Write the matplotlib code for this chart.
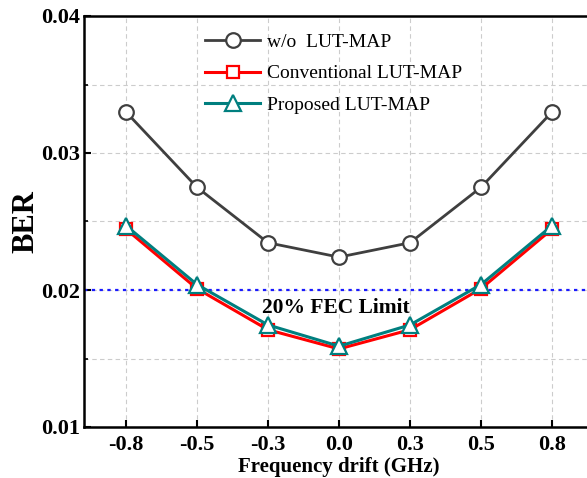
import matplotlib
matplotlib.use("Agg")
import matplotlib.pyplot as plt
from matplotlib.ticker import MultipleLocator

categories = ["-0.8", "-0.5", "-0.3", "0.0", "0.3", "0.5", "0.8"]
wo_lut = [0.0330, 0.0275, 0.02345, 0.0224, 0.02345, 0.0275, 0.0330]
conv_lut = [0.02445, 0.0201, 0.0171, 0.0157, 0.0171, 0.0201, 0.02445]
prop_lut = [0.0247, 0.0204, 0.01745, 0.0159, 0.01745, 0.0204, 0.0247]
fec_limit = 0.02

plt.rcParams['font.family'] = ['Liberation Serif', 'DejaVu Serif']
plt.rcParams['mathtext.fontset'] = 'stix'

fig = plt.figure(figsize=(5.87, 4.78), dpi=100)
# axes extends beyond the right edge of the figure (cropped like the reference)
ax = fig.add_axes([84/587, 51/478, (594-84)/587, (427-16)/478])

x = list(range(len(categories)))
ax.plot(x, wo_lut, color='#3f3f3f', lw=2.0, marker='o', ms=10.5, mfc='white',
        mec='#3f3f3f', mew=1.6, label='w/o  LUT-MAP', zorder=3)
ax.plot(x, conv_lut, color='#ff0000', lw=2.2, marker='s', ms=8.5, mfc='white',
        mec='#ff0000', mew=1.6, label='Conventional LUT-MAP', zorder=3)
ax.plot(x, prop_lut, color='#007f7f', lw=2.2, marker='^', ms=11, mfc='white',
        mec='#007f7f', mew=1.6, label='Proposed LUT-MAP', zorder=4)

ax.axhline(fec_limit, color='#1a1aff', lw=1.6, ls=(0, (1.5, 2)), zorder=2)
ax.text(2.95, 0.0187, '20% FEC Limit', ha='center', va='center',
        fontsize=15.5, fontweight='bold')

ax.set_xlim(-0.59, 6.59)
ax.set_ylim(0.01, 0.04)
ax.set_xticks(x)
ax.set_xticklabels(categories)
ax.yaxis.set_major_locator(MultipleLocator(0.01))
ax.yaxis.set_minor_locator(MultipleLocator(0.005))
ax.yaxis.set_major_formatter(matplotlib.ticker.FormatStrFormatter('%.2f'))

ax.grid(True, which='both', axis='y', color='#cccccc', ls=(0, (4, 3)), lw=0.8)
ax.grid(True, which='major', axis='x', color='#cccccc', ls=(0, (4, 3)), lw=0.8)
ax.set_axisbelow(True)

for s in ax.spines.values():
    s.set_linewidth(1.8)

ax.tick_params(axis='both', which='major', direction='in', length=5, width=1.5,
               labelsize=16)
ax.tick_params(axis='y', which='major', pad=3)
ax.tick_params(axis='x', which='major', pad=6)
ax.tick_params(axis='y', which='minor', direction='in', length=3, width=1.2)
for lab in ax.get_xticklabels() + ax.get_yticklabels():
    lab.set_fontweight('bold')

ax.set_xlabel('Frequency drift (GHz)', fontsize=15, fontweight='bold', labelpad=1)
ax.set_ylabel('BER', fontsize=22, fontweight='bold', labelpad=0)

leg = ax.legend(loc='upper left', bbox_to_anchor=(0.237, 0.958), frameon=False,
                fontsize=14, handlelength=2.85, handletextpad=0.36,
                labelspacing=0.72, borderaxespad=0.0, borderpad=0.0)

fig.savefig('out.png', dpi=100)
